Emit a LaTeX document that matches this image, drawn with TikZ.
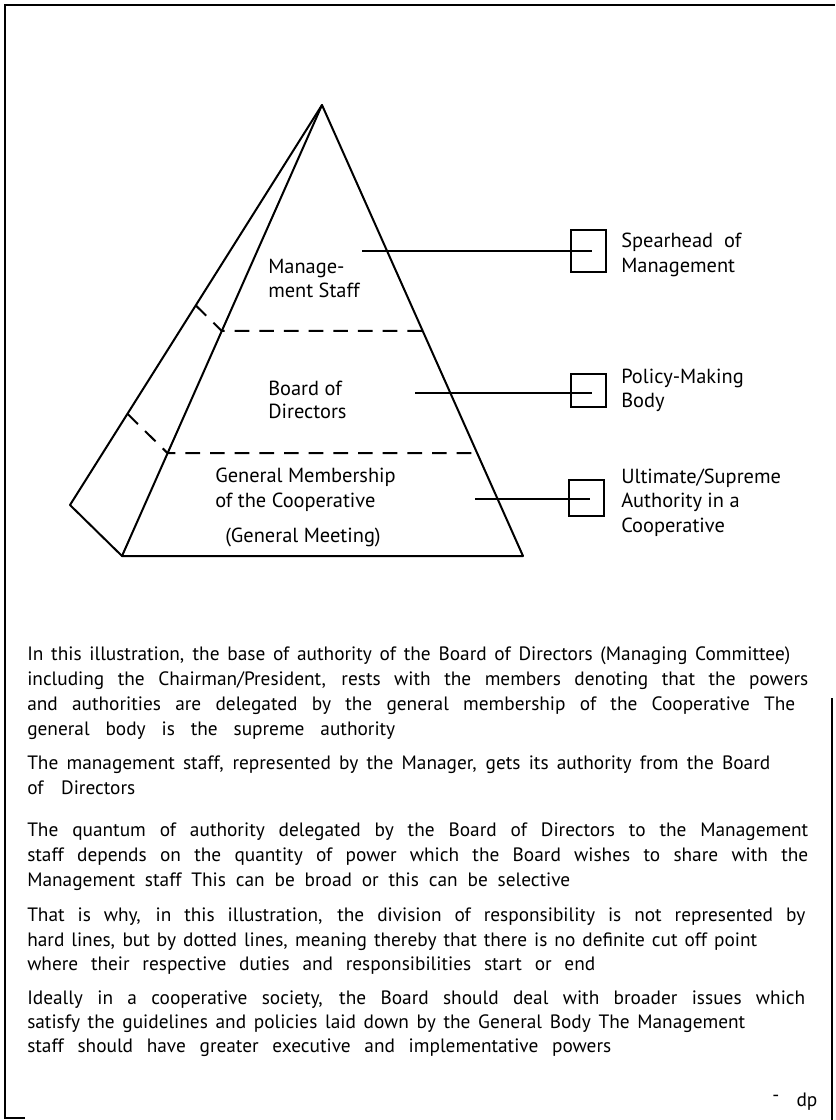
\documentclass[tikz,border=0pt]{standalone}
\usepackage{fontspec}
\setmainfont{PT Sans}
\usetikzlibrary{calc}
\begin{document}
\begin{tikzpicture}[x=0.75pt,y=-0.75pt,
  frame/.style={line width=1.5pt},
  edge/.style={line width=1.5pt, line join=round, line cap=round},
  divider/.style={line width=1.5pt, dash pattern=on 11pt off 7.5pt},
  leader/.style={line width=1.5pt},
  tagbox/.style={draw, line width=1.5pt, inner sep=0pt, minimum width=26.25pt},
  lbl/.style={font=\fontsize{15.3}{18}\selectfont, anchor=base west, inner sep=0pt},
  body/.style={font=\fontsize{14.5}{17}\selectfont, anchor=base west, inner sep=0pt},
]
\useasboundingbox (0,0) rectangle (835,1120);

% page frame
\draw[frame] (25,1118) -- (5,1118) -- (5,5) -- (835,5);
\draw[frame] (832,698) -- (832,1120);

% pyramid corners
\coordinate (A) at (322,105);
\coordinate (BL) at (122,556);
\coordinate (BR) at (523,556);
\coordinate (BK) at (70,505);

% faces
\draw[edge] (BK) -- (A) -- (BR) -- (BL) -- cycle;
\draw[edge] (A) -- (BL);

% dotted divisions between the levels
\draw[divider] ($(A)!0.501!(BK)$) -- ($(A)!0.501!(BL)$) -- ($(A)!0.501!(BR)$);
\draw[divider] ($(A)!0.772!(BK)$) -- ($(A)!0.772!(BL)$) -- ($(A)!0.772!(BR)$);

% level names
\node[lbl] (ms1) at (268,273) {Manage-};
\node[lbl] (ms2) at (268,297) {ment Staff};
\node[lbl] (bd1) at (268,395) {Board of};
\node[lbl] (bd2) at (268,418) {Directors};
\node[lbl] (gm1) at (215,482) {General Membership};
\node[lbl] (gm2) at (215,507) {of the Cooperative};
\node[lbl] (gm3) at (225,542) {(General Meeting)};

% side boxes
\node[tagbox, minimum height=31.5pt] (b1) at (588.5,251) {};
\node[tagbox, minimum height=24.75pt] (b2) at (588.5,390.5) {};
\node[tagbox, minimum height=27pt] (b3) at (586.5,498) {};

% leaders from the levels to the boxes
\coordinate (l1) at (362,251);
\coordinate (l2) at (415,393);
\coordinate (l3) at (475,499);
\draw[leader] (l1) -- ($(b1.center |- l1)+(3.5,0)$);
\draw[leader] (l2) -- ($(b2.center |- l2)+(3.5,0)$);
\draw[leader] (l3) -- ($(b3.center |- l3)+(3.5,0)$);

% box captions
\node[lbl] (c1a) at (621,247) {Spearhead\ \ of};
\node[lbl] (c1b) at (621,272) {Management};
\node[lbl] (c2a) at (621,383) {Policy-Making};
\node[lbl] (c2b) at (621,407) {Body};
\node[lbl] (c3a) at (621,483) {Ultimate/Supreme};
\node[lbl] (c3b) at (621,507) {Authority in a};
\node[lbl] (c3c) at (621,532) {Cooperative};

% explanatory text, one justified line per node
\newcommand\bodyline[4]{\node[body] (#1) at (27,#2) {\makebox[#3pt][s]{#4}};}
\bodyline{p1a}{660}{572.25}{In this illustration, the base of authority of the Board of Directors (Managing Committee)}
\bodyline{p1b}{685}{585.75}{including the Chairman/President, rests with the members denoting that the powers}
\bodyline{p1c}{710}{576}{and authorities are delegated by the general membership of the Cooperative The}
\bodyline{p1d}{735}{276}{general body is the supreme authority}

\bodyline{p2a}{769}{557.25}{The management staff, represented by the Manager, gets its authority from the Board}
\bodyline{p2b}{794}{81}{of Directors}

\bodyline{p3a}{836}{585.75}{The quantum of authority delegated by the Board of Directors to the Management}
\bodyline{p3b}{861}{585.75}{staff depends on the quantity of power which the Board wishes to share with the}
\bodyline{p3c}{886}{407.25}{Management staff This can be broad or this can be selective}

\bodyline{p4a}{921}{583.5}{That is why, in this illustration, the division of responsibility is not represented by}
\bodyline{p4b}{946}{547.5}{hard lines, but by dotted lines, meaning thereby that there is no definite cut off point}
\bodyline{p4c}{970}{426}{where their respective duties and responsibilities start or end}

\bodyline{p5a}{1004}{583.5}{Ideally in a cooperative society, the Board should deal with broader issues which}
\bodyline{p5b}{1028}{538.5}{satisfy the guidelines and policies laid down by the General Body The Management}
\bodyline{p5c}{1052}{438}{staff should have greater executive and implementative powers}

\node[body] (sig) at (772,1106) {\raisebox{0.5ex}{-}\hspace{13pt}dp};
\end{tikzpicture}
\end{document}
